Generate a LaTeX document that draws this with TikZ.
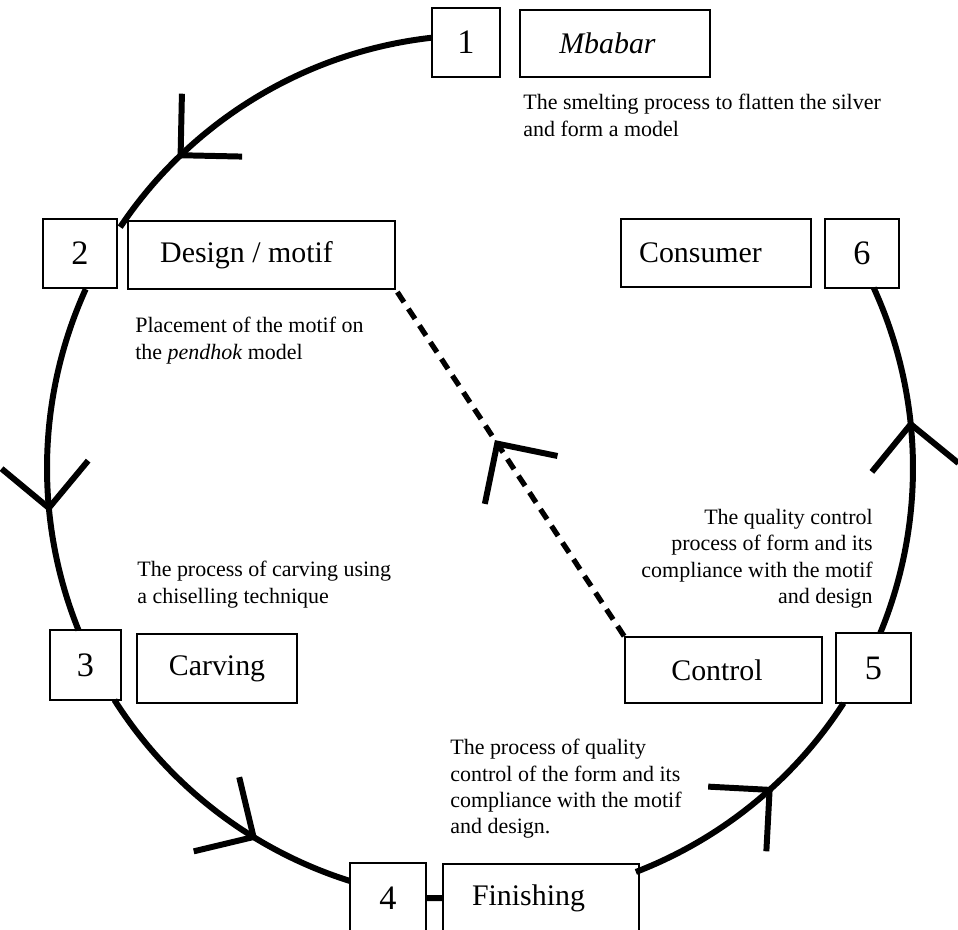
\documentclass[tikz,border=0pt]{standalone}
\usepackage{fontspec}
\setmainfont{Liberation Serif}
\usetikzlibrary{decorations.markings}

\newcommand{\ringr}{8.66}

\tikzset{
  ring/.style={line width=3.4pt},
  box/.style={draw, line width=1pt, inner sep=0pt},
  numbox/.style={box, minimum width=1.48cm, minimum height=1.38cm, font=\fontsize{19.5}{22}\selectfont},
  namebox/.style={box, minimum height=1.36cm, font=\fontsize{17}{20}\selectfont},
  note/.style={inner sep=0pt, font=\fontsize{12.5}{15}\selectfont},
  vtip/.style={postaction={decorate}, decoration={markings,
    mark=at position #1 with {\draw[solid, line width=3.4pt] (-0.87,0.87) -- (0,0) -- (-0.87,-0.87);}}}
}

\begin{document}
\begin{tikzpicture}
  \useasboundingbox (0,0) rectangle (19.16,18.58);
  % Centre of the cycle
  \coordinate (ctr) at (9.6,9.22);

  % Step numbers
  \node[numbox, minimum width=1.36cm] (one) at (9.32,17.73) {1};
  \node[numbox] (two) at (1.60,13.51) {2};
  \node[numbox, minimum width=1.42cm, minimum height=1.40cm] (three) at (1.71,5.28) {3};
  \node[numbox, minimum width=1.52cm, minimum height=1.40cm] (four) at (7.76,0.62) {4};
  \node[numbox, minimum width=1.50cm, minimum height=1.40cm] (five) at (17.47,5.22) {5};
  \node[numbox] (six) at (17.24,13.51) {6};

  % Step names (text sits a little left of centre)
  \node[namebox, minimum width=3.80cm, minimum height=1.34cm] (mbabar) at (12.30,17.71) {\textit{Mbabar}\hspace*{0.30cm}};
  \node[namebox, minimum width=5.34cm] (design) at (5.23,13.48) {Design / motif\hspace*{0.60cm}};
  \node[namebox, minimum width=3.20cm, minimum height=1.38cm] (carving) at (4.34,5.21) {Carving};
  \node[namebox, minimum width=3.92cm, minimum height=1.38cm] (finishing) at (10.82,0.61) {Finishing\hspace*{0.50cm}};
  \node[namebox, minimum width=3.94cm, minimum height=1.32cm] (control) at (14.47,5.18) {Control\hspace*{0.26cm}};
  \node[namebox, minimum width=3.80cm, minimum height=1.36cm] (consumer) at (14.32,13.52) {Consumer\hspace*{0.62cm}};

  % Descriptions
  \node[note, anchor=north west, align=left] (smelt) at (10.46,16.70)
    {The smelting process to flatten the silver\\and form a model};
  \node[note, anchor=north west, align=left] (place) at (2.70,12.24)
    {Placement of the motif on\\the \textit{pendhok} model};
  \node[note, anchor=north west, align=left] (chisel) at (2.74,7.36)
    {The process of carving using\\a chiselling technique};
  \node[note, anchor=north west, align=left] (check) at (9.00,3.80)
    {The process of quality\\control of the form and its\\compliance with the motif\\and design.};
  \node[note, anchor=north east, align=right] (quality) at (17.46,8.40)
    {The quality control\\process of form and its\\compliance with the motif\\and design\ };

  % Cycle arcs
  \draw[ring, vtip=0.75] ([shift={(96.4:\ringr)}]ctr) arc[start angle=96.4, end angle=146.2, radius=\ringr];
  \draw[ring, vtip=0.64] ([shift={(155.6:\ringr)}]ctr) arc[start angle=155.6, end angle=202, radius=\ringr];
  \draw[ring, vtip=0.65] ([shift={(212.4:\ringr)}]ctr) arc[start angle=212.4, end angle=252.5, radius=\ringr];
  \draw[ring] (four) -- (finishing);
  \draw[ring, vtip=0.58] ([shift={(291.1:\ringr)}]ctr) arc[start angle=291.1, end angle=327.1, radius=\ringr];
  \draw[ring, vtip=0.60] ([shift={(-22.4:\ringr)}]ctr) arc[start angle=-22.4, end angle=24.6, radius=\ringr];

  % Feedback from control to design
  \draw[line width=3pt, dash pattern=on 0.24cm off 0.16cm, vtip=0.556] (control.north west) -- (design.south east);
\end{tikzpicture}
\end{document}
